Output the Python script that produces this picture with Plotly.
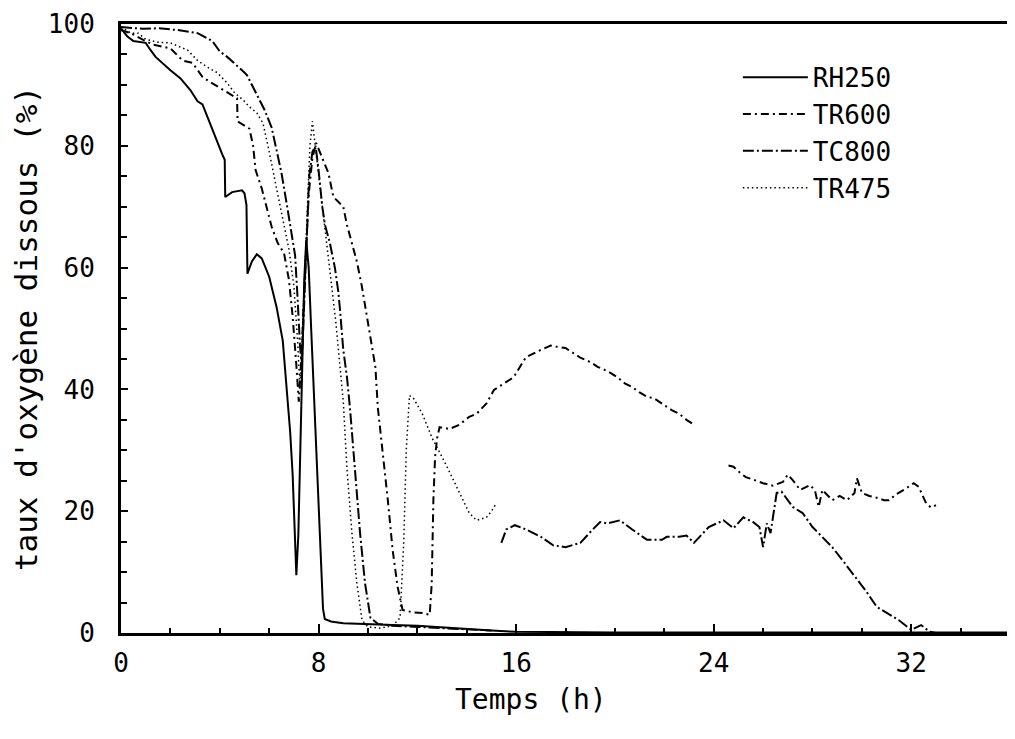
import plotly.graph_objects as go

# ---------------- data ----------------
rh250_t = [0, 0.25, 0.5, 1.0, 1.2, 1.4, 2.0, 2.4, 2.8, 3.1, 3.3, 3.5, 3.8, 4.1, 4.2, 4.22,
           4.5, 4.9, 5.0, 5.08, 5.12, 5.3, 5.5, 5.7, 6.0, 6.3, 6.55, 6.7, 6.85, 6.95, 7.03,
           7.1, 7.18, 7.25, 7.33, 7.42, 7.5, 7.6, 7.7, 7.8, 7.9, 8.0, 8.1, 8.18, 8.25, 8.5,
           9.0, 10.0, 11.0, 12.0, 13.0, 14.0, 15.0, 16.0, 20.0, 36.2]
rh250_v = [99.3, 98, 97.2, 96.9, 95.7, 94.6, 92.4, 91.1, 89.2, 87.3, 86.8, 84.7, 81.8, 78.6, 77.7, 71.6,
           72.4, 72.7, 72.2, 70.3, 59, 61, 62.2, 61.5, 58.5, 53.5, 48, 40, 33, 26, 18,
           9.5, 16, 30, 44, 58, 64.5, 60, 50, 40, 30, 21, 10, 4, 2.3, 1.9,
           1.6, 1.4, 1.3, 1.2, 0.9, 0.6, 0.4, 0.2, 0.1, 0.1]

tr600_t = [0, 0.4, 0.9, 1.3, 2.0, 2.5, 2.9, 3.3, 3.6, 4.0, 4.4, 4.7, 4.72, 4.9, 5.2, 5.35, 5.45,
           5.7, 5.9, 6.1, 6.35, 6.6, 6.8, 6.95, 7.1, 7.2, 7.3, 7.45, 7.6, 7.75, 7.9, 8.05, 8.4,
           8.6, 9.0, 9.15, 9.35, 9.55, 9.75, 9.9, 10.1, 10.3, 10.4, 10.6, 10.8, 11.0, 11.2, 11.4,
           11.8, 12.2, 12.5, 12.58, 12.65, 12.72, 12.8, 12.9, 13.3, 13.7, 14.1, 14.4, 14.8, 15.1,
           15.5, 15.9, 16.2, 16.4, 17.0, 17.4, 17.65, 18.0, 18.3, 18.6, 19.0, 19.3, 19.7, 20.1,
           20.4, 20.7, 21.0, 21.3, 21.6, 21.9, 22.3, 22.6, 22.9, 23.2, 23.9,
           24.6, 24.8, 25.1, 25.3, 25.6, 26.0, 26.4, 26.8, 27.0, 27.2, 27.5, 27.9, 28.1, 28.25,
           28.4, 28.8, 29.1, 29.4, 29.7, 29.8, 30.0, 30.3, 30.6, 30.9, 31.1, 31.4, 31.7, 32.1,
           32.3, 32.6, 32.8, 33.0]
tr600_v = [99, 98.5, 97.4, 96.6, 96, 94, 93.6, 91.3, 90.5, 89.5, 88.5, 87.8, 84, 83.5, 82.8, 80, 76,
           73, 70, 66.7, 64, 62.4, 58, 52, 44, 38, 45, 60, 72, 78, 80.5, 79, 75.5,
           71.6, 70, 67, 64, 61, 57, 53.5, 49, 43.7, 37, 30, 22, 13.6, 7.6, 3.8,
           3.4, 3.3, 3.0, 8, 22, 29, 32, 33.8, 33.5, 34.2, 35.5, 36, 37.7, 39.9,
           41, 42, 44, 45.3, 46.5, 47.2, 47, 46.8, 46, 45.2, 44.5, 43.7, 43, 42,
           41, 40.4, 39.5, 38.8, 38.5, 37.7, 36.6, 36, 35, 34.2, None,
           27.5, 27.3, 26.2, 25.6, 25.2, 24.6, 24.2, 24.8, 26, 25.1, 23.5, 24.3, 23.4, 20.7,
           23.5, 21.8, 22.5, 21.8, 23, 25.4, 23, 22.5, 22.2, 21.8, 21.8, 22.8, 23.5, 24.6,
           24, 21.3, 20.6, 21.0]

tc800_t = [0, 0.9, 1.5, 2.3, 3.1, 3.7, 4.0, 4.3, 4.9, 5.1, 5.4, 5.8, 6.1, 6.3, 6.5, 6.75, 6.9,
           7.05, 7.15, 7.25, 7.32, 7.4, 7.5, 7.62, 7.75, 7.88, 8.0, 8.15, 8.26, 8.46, 8.66, 8.8,
           8.87, 9.0, 9.15, 9.27, 9.47, 9.68, 9.88, 10.1, 10.4, 11.0, 12.0, 13.0, 14.0, 15.0, 15.2,
           15.4, 15.6, 15.95, 16.4, 17.0, 17.5, 18.0, 18.6, 19.1, 19.4, 19.7, 20.2, 20.7, 21.3,
           21.9, 22.1, 22.6, 22.9, 23.2, 23.8, 24.4, 24.8, 25.2, 25.6, 25.85, 26.0, 26.15, 26.3,
           26.55, 26.75, 27.2, 27.6, 28.0, 28.4, 28.8, 29.3, 29.9, 30.2, 30.6, 31.0, 31.5, 32.0,
           32.4, 32.75, 33.0, 36.2]
tc800_v = [99.5, 99.2, 99.3, 99, 98.5, 97.2, 95.5, 94.6, 92.4, 91.6, 89.2, 86, 83, 79.5, 75.5, 69.5, 65.7,
           62, 55, 47, 44, 52, 65, 75, 79, 80, 76, 70, 67, 64, 60, 56,
           53, 46.5, 42, 37, 27, 16.4, 8.2, 2.5, 1.5, 1.2, 1.0, 0.8, 0.6, 0.4, None,
           14.8, 17, 17.7, 17, 15.8, 14.4, 14.1, 14.8, 17, 18.2, 18, 18.5, 17, 15.3,
           15.3, 15.8, 15.8, 16, 14.8, 17.4, 18.5, 17.2, 19, 18.2, 17.4, 14.1, 18, 16.4,
           23, 23.2, 20.7, 19.7, 17.4, 15.8, 14.1, 11.5, 8.4, 6.7, 4.3, 3.3, 2.1, 0.5,
           1.3, 0.2, 0, 0]

tr475_t = [0, 0.4, 0.7, 1.0, 1.5, 2.0, 2.7, 3.1, 3.5, 3.9, 4.3, 4.6, 4.95, 5.2, 5.5, 5.75, 5.95,
           6.2, 6.5, 6.8, 7.0, 7.15, 7.25, 7.35, 7.5, 7.65, 7.75, 7.9, 8.1, 8.3, 8.5, 8.7, 8.85,
           9.0, 9.15, 9.35, 9.55, 9.76, 10.0, 10.5, 11.0, 11.3, 11.45, 11.55, 11.68, 11.85, 12.2,
           12.6, 13.2, 13.7, 14.1, 14.4, 14.8, 15.0, 15.2]
tr475_v = [99.5, 98.5, 98.5, 97.5, 97, 96.9, 95.7, 94, 92.9, 92, 90.3, 88.7, 87.5, 86.4, 85.4, 83.7, 80,
           75, 69, 63, 57, 48, 40, 50, 66, 80, 84, 79, 72, 65, 58, 51, 45,
           38, 27, 16.4, 8.2, 2.1, 1.0, 0.8, 1.2, 2.5, 15, 30, 39, 38.5, 36,
           32, 27.3, 23, 19.7, 18.5, 19, 20, 21.3]

series = [
    ("RH250", rh250_t, rh250_v, dict(color="black", width=2, dash="solid")),
    ("TR600", tr600_t, tr600_v, dict(color="black", width=2, dash="8px,4px,2px,4px")),
    ("TC800", tc800_t, tc800_v, dict(color="black", width=2, dash="11px,3px,2px,3px")),
    ("TR475", tr475_t, tr475_v, dict(color="black", width=1.5, dash="1.5px,3px")),
]

x_ticks = [0, 8, 16, 24, 32]
y_ticks = [0, 20, 40, 60, 80, 100]
x_title = "Temps (h)"
y_title = "taux d'oxygène dissous (%)"

FONT = "DejaVu Sans Mono"

fig = go.Figure()
for name, t, v, line in series:
    fig.add_trace(go.Scatter(x=t, y=v, mode="lines", name=name, line=line,
                             connectgaps=False))

# the page body has an 8px default margin, so the figure is 8px smaller than the window
fig.update_layout(
    template="none",
    width=1007, height=731,
    margin=dict(l=113, r=0, t=16, b=106, autoexpand=False),
    paper_bgcolor="white", plot_bgcolor="white",
    font=dict(family=FONT, color="black", size=26),
    showlegend=True,
    legend=dict(x=0.69, y=0.951, xanchor="left", yanchor="top",
                bgcolor="rgba(0,0,0,0)", borderwidth=0,
                font=dict(family=FONT, size=26),
                itemwidth=65, tracegroupgap=0),
    annotations=[dict(text=x_title, xref="paper", yref="paper", x=0.459, y=-0.11,
                      xanchor="center", yanchor="middle", showarrow=False,
                      font=dict(family=FONT, size=28, color="black"))],
)

fig.update_xaxes(
    range=[0, 36.2], showgrid=False, zeroline=False, automargin=False,
    showline=True, linecolor="black", linewidth=3, mirror=True,
    ticks="inside", ticklen=9, tickwidth=2, tickcolor="black",
    tickvals=x_ticks, ticktext=[str(v) for v in x_ticks],
    minor=dict(dtick=2, tick0=0, ticks="inside", ticklen=5, tickwidth=1.5, tickcolor="black",
               showgrid=False),
    ticklabelstandoff=5,
    tickfont=dict(family=FONT, size=26),
)
fig.update_yaxes(
    range=[0, 100], showgrid=False, zeroline=False, automargin=False,
    showline=True, linecolor="black", linewidth=3, mirror=False,
    ticks="inside", ticklen=7, tickwidth=2, tickcolor="black",
    tickvals=y_ticks, ticktext=[str(v) for v in y_ticks],
    minor=dict(dtick=5, tick0=0, ticks="inside", ticklen=6, tickwidth=1.5, tickcolor="black",
               showgrid=False),
    ticklabelstandoff=18,
    tickfont=dict(family=FONT, size=26),
    title=dict(text=y_title, font=dict(family=FONT, size=31), standoff=6),
)

fig.write_html("out.html")
